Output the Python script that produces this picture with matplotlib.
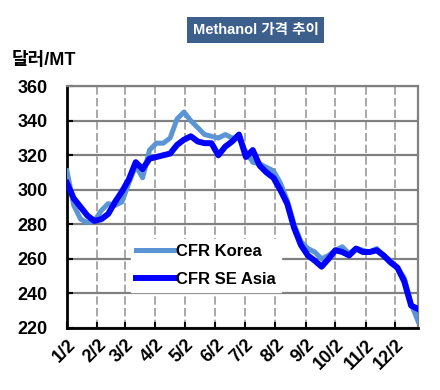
import matplotlib
matplotlib.use("Agg")
import matplotlib.pyplot as plt

plt.rcParams['font.family'] = ['Liberation Sans', 'Noto Sans CJK KR', 'DejaVu Sans']

# weekly prices, days counted from 1/2
days = [0, 7, 14, 21, 28, 35, 42, 49, 56, 63, 70, 77, 84, 91, 98, 105, 112, 119,
        126, 133, 140, 147, 154, 161, 168, 175, 182, 189, 196, 203, 210, 217, 224,
        231, 238, 245, 252, 259, 266, 273, 280, 287, 294, 301, 308, 315, 322, 329,
        336, 343, 350, 357]
korea = [311, 291, 283, 281, 282, 288, 292, 291, 293, 304, 314, 307, 323, 327,
         327, 330, 341, 345, 340, 336, 332, 331, 330, 332, 330, 330, 322, 316,
         315, 313, 311, 304, 294, 280, 270, 266, 264, 260, 262, 265, 267, 263,
         266, 265, 264, 266, 262, 259, 255, 249, 234, 224]
se_asia = [304, 295, 290, 285, 282, 283, 286, 293, 299, 306, 316, 312, 318, 319,
           320, 321, 326, 329, 331, 328, 327, 327, 320, 325, 328, 332, 319, 323,
           314, 310, 307, 300, 292, 278, 268, 262, 259, 255.5, 260, 265, 264, 262,
           266, 264, 264, 265, 262, 258, 255, 247, 233, 231]

tick_days = [0, 31, 59, 90, 120, 151, 181, 212, 243, 273, 304, 334]
tick_labels = ['1/2', '2/2', '3/2', '4/2', '5/2', '6/2', '7/2', '8/2', '9/2',
               '10/2', '11/2', '12/2']

fig = plt.figure(figsize=(4.4, 3.9), dpi=100)
ax = fig.add_axes([0.152, 0.159, 0.798, 0.62])

ax.plot(days, korea, color='#5b95d6', lw=3.6, label='CFR Korea', zorder=3)
ax.plot(days, se_asia, color='#0000ff', lw=4.3, label='CFR SE Asia', zorder=4)

ax.set_xlim(0, 357)
ax.set_ylim(220, 360)
ax.set_yticks(range(220, 361, 20))
ax.set_xticks(tick_days)
ax.set_xticklabels(tick_labels, rotation=45, ha='right', rotation_mode='anchor')

ax.grid(axis='y', color='#808080', lw=1.6, zorder=1)
ax.grid(axis='x', color='#9a9a9a', lw=1.2, linestyle=(0, (5, 2)), zorder=1)

for s in ['top', 'right']:
    ax.spines[s].set_color('#808080')
    ax.spines[s].set_linewidth(1.6)
for s in ['left', 'bottom']:
    ax.spines[s].set_color('black')
    ax.spines[s].set_linewidth(2)

ax.tick_params(axis='both', length=4, width=1.5, direction='in', color='black')
ax.tick_params(axis='y', pad=14)
ax.tick_params(axis='x', pad=6)
for lab in ax.get_yticklabels() + ax.get_xticklabels():
    lab.set_fontweight('bold')
    lab.set_fontsize(13)

leg = ax.legend(loc='lower left', bbox_to_anchor=(0.16, 0.115), frameon=True,
                fancybox=False, framealpha=1, edgecolor='white', handlelength=2.4,
                handletextpad=0.0, borderpad=0.3, labelspacing=0.8,
                prop={'weight': 'bold', 'size': 12})
leg.set_zorder(5)

fig.text(0.581, 0.923, 'Methanol 가격 추이', ha='center', va='center', color='white',
         fontsize=10.5, fontweight='bold',
         bbox=dict(boxstyle='square,pad=0.4', fc='#3d5f8c', ec='none'))
fig.text(0.027, 0.845, '달러/MT', ha='left', va='center', fontsize=13,
         fontweight='bold')

fig.savefig('out.png', dpi=100)
